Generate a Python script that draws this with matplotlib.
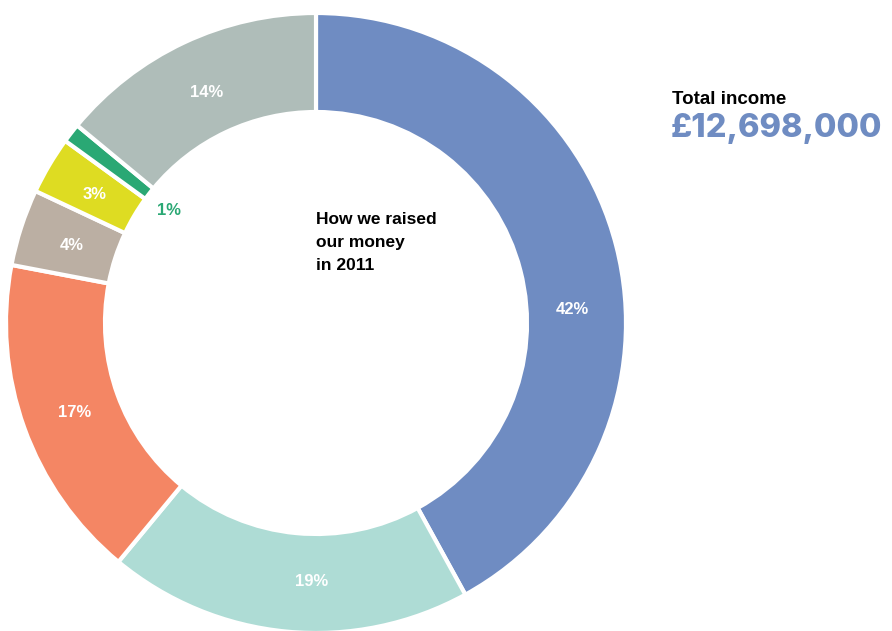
import numpy as np
import matplotlib
matplotlib.use("Agg")
import matplotlib.pyplot as plt

plt.rcParams['font.family'] = ['Liberation Sans', 'DejaVu Sans']

# income sources, clockwise from the top
shares = [42, 19, 17, 4, 3, 1, 14]
labels = ['42%', '19%', '17%', '4%', '3%', '1%', '14%']
colors = ['#6f8cc2', '#aedcd5', '#f48664', '#bbafa3', '#dedc22', '#2aa874', '#afbdb9']
total_label = '£12,698,000'

# a couple of labels sit away from the wedge middle in the original
label_angle = {'42%': 3.4, '19%': -91.0}

W, H = 892, 631
fig = plt.figure(figsize=(W / 100, H / 100), dpi=100)
ax = fig.add_axes([0, 0, 1, 1])

cx, cy = 316, H - 323
r_out, r_in = 310, 211

wedges, _ = ax.pie(shares, colors=colors, startangle=90, counterclock=False,
                   center=(cx, cy), radius=r_out,
                   wedgeprops=dict(width=r_out - r_in, edgecolor='white', linewidth=3))
ax.set_xlim(0, W)
ax.set_ylim(0, H)
ax.set_aspect('equal')
ax.axis('off')

# percentage labels
for w, lab in zip(wedges, labels):
    ang = label_angle.get(lab, (w.theta1 + w.theta2) / 2)
    mid = np.deg2rad(ang)
    if lab == '1%':
        r, col = 186, '#2aa874'
    else:
        r, col = 257, 'white'
    ax.text(cx + r * np.cos(mid), cy + r * np.sin(mid) - 2, lab, ha='center', va='center',
            fontsize=12, fontweight='bold', color=col)

ax.text(316, H - 212, 'How we raised\nour money\nin 2011', ha='left', va='top',
        fontsize=12.5, fontweight='bold', color='black', linespacing=1.65)

ax.text(672, H - 99, 'Total income', ha='left', va='center',
        fontsize=13.5, fontweight='bold', color='black')
ax.text(671, H - 129, total_label, ha='left', va='center',
        fontsize=23.5, fontweight=800, color='#6f8cc2', family=['Inter', 'DejaVu Sans'])

fig.savefig('out.png', dpi=100)
